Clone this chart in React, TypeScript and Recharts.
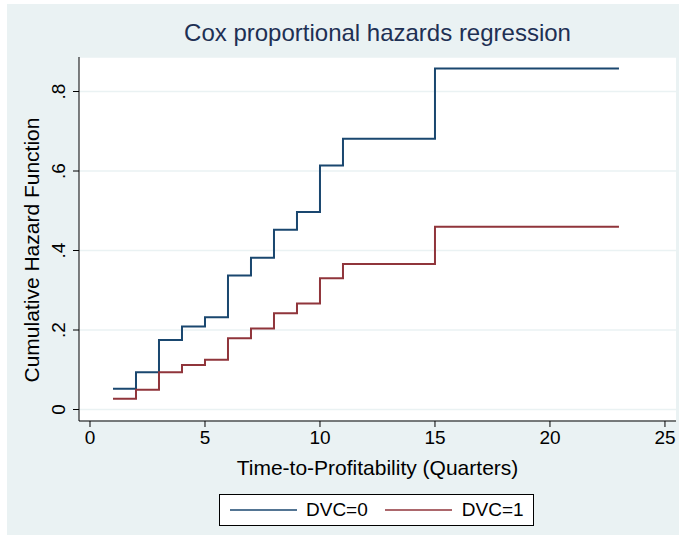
import {
  LineChart,
  Line,
  XAxis,
  YAxis,
  CartesianGrid,
} from "recharts";

const quarters = [1, 2, 3, 4, 5, 6, 7, 8, 9, 10, 11, 15, 23];
const hazardDvc0 = [0.052, 0.094, 0.175, 0.209, 0.232, 0.337, 0.382, 0.452, 0.497, 0.614, 0.681, 0.858, 0.858];
const hazardDvc1 = [0.027, 0.05, 0.094, 0.112, 0.125, 0.179, 0.204, 0.242, 0.267, 0.33, 0.366, 0.46, 0.46];
const xTicks = [0, 5, 10, 15, 20, 25];
const yTicks = [0, 0.2, 0.4, 0.6, 0.8];

const dvc0 = quarters.map((q, i) => ({ x: q, y: hazardDvc0[i] }));
const dvc1 = quarters.map((q, i) => ({ x: q, y: hazardDvc1[i] }));

const FONT = '"Liberation Sans", Arial, sans-serif';
const BLUE = "#1a476f";
const RED = "#90353b";
const BG = "#eaf2f3";

const fmtY = (v: number) => (v === 0 ? "0" : String(v).replace(/^0/, ""));

// stata-style rotated y labels
const YTick = (props: any) => {
  const { x, y, payload } = props;
  const bx = x - 5;
  return (
    <text
      x={bx}
      y={y}
      transform={`rotate(-90 ${bx} ${y})`}
      textAnchor="middle"
      fontSize={19}
      fontFamily={FONT}
      fill="#000"
    >
      {fmtY(payload.value)}
    </text>
  );
};

// legend drawn as a plain box under the axis title
const LegendBox = () => (
  <div
    style={{
      position: "absolute",
      left: 219,
      top: 494,
      width: 315,
      height: 32,
      border: "1.5px solid #000",
      background: "#fff",
      display: "flex",
      alignItems: "center",
      fontFamily: FONT,
      fontSize: 19,
      color: "#000",
      boxSizing: "border-box",
    }}
  >
    <svg width={80} height={10} style={{ marginLeft: 10 }}>
      <line x1={0} y1={5} x2={67} y2={5} stroke={BLUE} strokeWidth={1.5} />
    </svg>
    <span style={{ marginLeft: -4 }}>DVC=0</span>
    <svg width={80} height={10} style={{ marginLeft: 17 }}>
      <line x1={0} y1={5} x2={67} y2={5} stroke={RED} strokeWidth={1.5} />
    </svg>
    <span style={{ marginLeft: -3 }}>DVC=1</span>
  </div>
);

export default function App() {
  return (
    <div style={{ position: "absolute", left: 0, top: 0, width: 679, height: 538, background: "#fff" }}>
      <div style={{ position: "absolute", left: 7, top: 4, width: 672, height: 531, background: BG }} />
      <div
        style={{
          position: "absolute",
          left: 79,
          width: 597,
          top: 19,
          textAlign: "center",
          fontFamily: FONT,
          fontSize: 24,
          color: "#1e3054",
        }}
      >
        Cox proportional hazards regression
      </div>
      <div
        style={{
          position: "absolute",
          left: 32,
          top: 250,
          transform: "translate(-50%, -50%) rotate(-90deg)",
          whiteSpace: "nowrap",
          fontFamily: FONT,
          fontSize: 21,
          color: "#000",
        }}
      >
        Cumulative Hazard Function
      </div>
      <div
        style={{
          position: "absolute",
          left: 79,
          width: 597,
          top: 456,
          textAlign: "center",
          fontFamily: FONT,
          fontSize: 21,
          color: "#000",
        }}
      >
        Time-to-Profitability (Quarters)
      </div>
      <div style={{ position: "absolute", left: 0, top: 0 }}>
        <LineChart width={679} height={538} margin={{ top: 57, right: 3, bottom: 87, left: 29 }}>
          <CartesianGrid vertical={false} stroke={BG} strokeWidth={1.5} fill="#fff" fillOpacity={1} />
          <XAxis
            type="number"
            dataKey="x"
            domain={[-0.478, 25.48]}
            ticks={xTicks}
            allowDataOverflow
            height={30}
            tickSize={6}
            tickMargin={4}
            stroke="#000"
            tick={{ fill: "#000", fontSize: 19, fontFamily: FONT }}
          />
          <YAxis
            type="number"
            dataKey="y"
            domain={[-0.0289, 0.8868]}
            ticks={yTicks}
            allowDataOverflow
            width={50}
            tickSize={6}
            tickMargin={3}
            stroke="#000"
            tick={<YTick />}
          />
          <Line
            data={dvc0}
            dataKey="y"
            type="stepAfter"
            stroke={BLUE}
            strokeWidth={2}
            dot={false}
            isAnimationActive={false}
            name="DVC=0"
          />
          <Line
            data={dvc1}
            dataKey="y"
            type="stepAfter"
            stroke={RED}
            strokeWidth={2}
            dot={false}
            isAnimationActive={false}
            name="DVC=1"
          />
        </LineChart>
      </div>
      <LegendBox />
    </div>
  );
}
